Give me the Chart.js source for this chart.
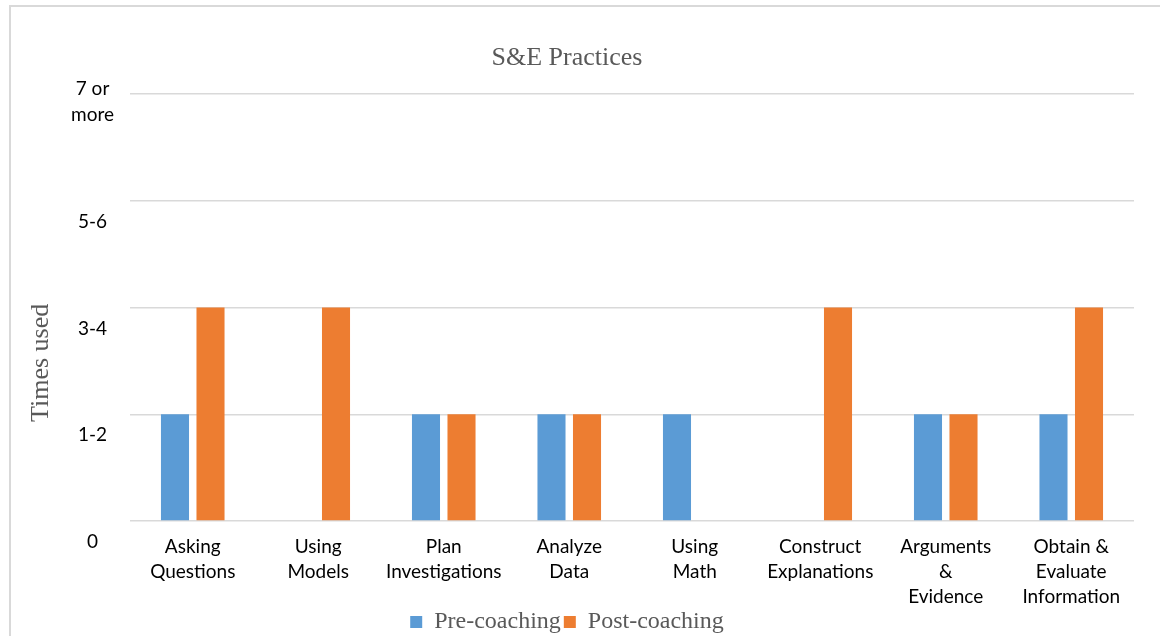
<!DOCTYPE html>
<html lang="en">
<head>
    <meta charset="UTF-8">
    <title>S&amp;E Practices</title>
    <script src="https://cdn.jsdelivr.net/npm/chart.js"></script>
    <style>
        html, body { margin: 0; padding: 0; background: #fff; }
        #frame {
            position: absolute; left: 9px; top: 5px; width: 1200px; height: 700px;
            border-top: 2px solid #d9d9d9; border-left: 2px solid #d9d9d9;
        }
        #chart { position: absolute; left: 0; top: 0; }
    </style>
</head>
<body>
    <div id="frame"></div>
    <canvas id="chart" width="1160" height="636"></canvas>

    <script>
        // chart data
        const categories = [
            ["Asking", "Questions"],
            ["Using", "Models"],
            ["Plan", "Investigations"],
            ["Analyze", "Data"],
            ["Using", "Math"],
            ["Construct", "Explanations"],
            ["Arguments", "&", "Evidence"],
            ["Obtain &", "Evaluate", "Information"]
        ];
        const preCoaching = [1, 0, 1, 1, 1, 0, 1, 1];
        const postCoaching = [2, 2, 1, 1, 0, 2, 1, 2];
        const yTickLabels = ["0", "1-2", "3-4", "5-6", ["7 or", "more"]];

        const serif = "'Liberation Serif', 'Times New Roman', serif";
        const sans = "Lato, 'Open Sans', sans-serif";

        const ctx = document.getElementById("chart").getContext("2d");
        new Chart(ctx, {
            type: 'bar',
            data: {
                labels: categories,
                datasets: [{
                    label: "Pre-coaching",
                    data: preCoaching,
                    backgroundColor: "#5b9bd5"
                }, {
                    label: "Post-coaching",
                    data: postCoaching,
                    backgroundColor: "#ed7d31"
                }]
            },
            options: {
                responsive: false,
                animation: false,
                devicePixelRatio: 1,
                categoryPercentage: 0.566,
                barPercentage: 0.79,
                // negative bottom lets the legend sit lower, like the original
                layout: { padding: { left: 0, right: 26, top: 0, bottom: -8 } },
                plugins: {
                    tooltip: { enabled: false },
                    title: {
                        display: true,
                        text: "S&E Practices",
                        color: "#595959",
                        font: { family: serif, size: 26, weight: 'normal' },
                        padding: { top: 43, bottom: 20 }
                    },
                    legend: {
                        position: 'bottom',
                        labels: {
                            color: "#595959",
                            font: { family: serif, size: 24 },
                            boxWidth: 12,
                            boxHeight: 12,
                            padding: 3
                        }
                    }
                },
                scales: {
                    x: {
                        grid: { display: false, drawTicks: false },
                        border: { display: false },
                        ticks: {
                            color: "#000",
                            font: { family: sans, size: 19, lineHeight: 1.32 },
                            padding: 13,
                            maxRotation: 0,
                            autoSkip: false
                        },
                        afterFit: function(scale) { scale.height = 86; }
                    },
                    y: {
                        min: 0,
                        max: 4,
                        border: { display: false },
                        grid: { color: "#d9d9d9", lineWidth: 1.5, drawTicks: false },
                        title: {
                            display: true,
                            // trailing spaces push the visible words lower, as in the original
                            text: "Times used" + " ".repeat(17),
                            color: "#595959",
                            font: { family: serif, size: 26 },
                            padding: { top: 26, bottom: 0 }
                        },
                        ticks: {
                            stepSize: 1,
                            color: "#000",
                            font: { family: sans, size: 19, lineHeight: 1.4 },
                            padding: 16,
                            crossAlign: 'center',
                            labelOffset: 21,
                            callback: function(value) {
                                const lbl = yTickLabels[value];
                                // extra empty line keeps the two-line label sitting like the others
                                return Array.isArray(lbl) ? lbl.concat([""]) : lbl;
                            }
                        },
                        afterFit: function(scale) { scale.width = 130; }
                    }
                }
            }
        });
    </script>
</body>
</html>
